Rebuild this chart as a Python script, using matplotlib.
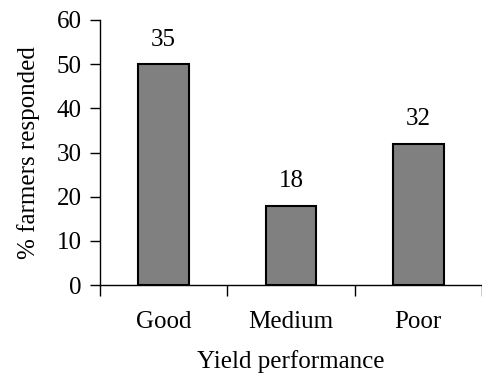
import matplotlib.pyplot as plt
import numpy as np

categories = ["Good", "Medium", "Poor"]
percent = [50, 18, 32]
counts = [35, 18, 32]

plt.rcParams['font.family'] = ['Liberation Serif', 'DejaVu Serif']
fs = 18

fig = plt.figure(figsize=(4.82, 3.77), dpi=100)
ax = fig.add_axes([100/482, 92/377, 382/482, 265/377])

x = np.arange(len(categories)) + 0.5
bars = ax.bar(x, percent, width=0.4, color='#808080', edgecolor='black', linewidth=1.5)

for xi, v, c in zip(x, percent, counts):
    ax.text(xi, v + 3, str(c), ha='center', va='bottom', fontsize=fs)

ax.set_xlim(0, 382/128.5)
ax.set_ylim(0, 60)
ax.set_yticks(range(0, 61, 10))
ax.tick_params(axis='y', direction='out', length=7, width=1, labelsize=fs, pad=6)

ax.set_xticks([0, 1, 2, 3])
ax.set_xticklabels([])
ax.set_xticks(x, minor=True)
ax.set_xticklabels(categories, minor=True, fontsize=fs)
ax.tick_params(axis='x', which='minor', length=0, pad=19)
ax.tick_params(axis='x', which='major', direction='out', length=8, width=1)

ax.spines['top'].set_visible(False)
ax.spines['right'].set_visible(False)
ax.spines['left'].set_linewidth(1)
ax.spines['bottom'].set_linewidth(1)

ax.set_xlabel("Yield performance", fontsize=fs, labelpad=12)
ax.set_ylabel("% farmers responded", fontsize=fs, labelpad=12)

fig.savefig("out.png", dpi=100)
